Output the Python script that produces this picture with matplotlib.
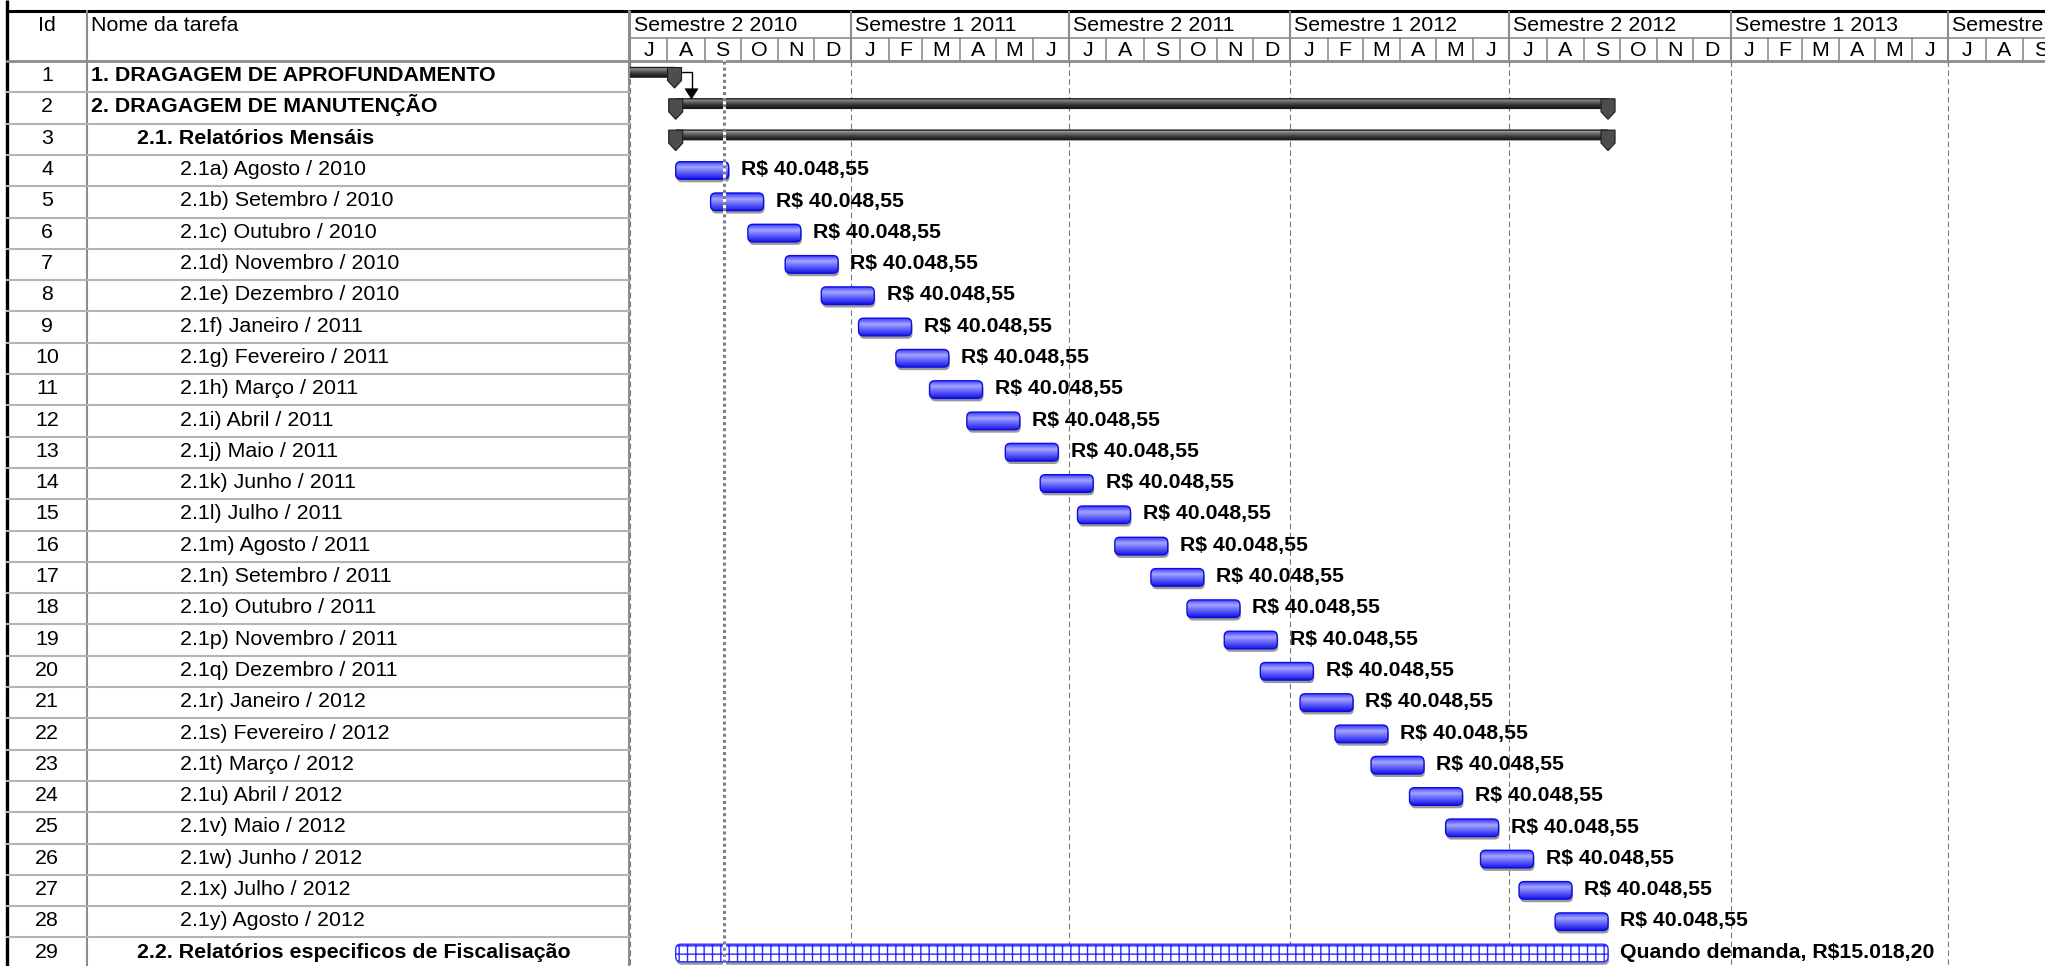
#!/usr/bin/env python3
"""Gantt da dragagem: tabela de tarefas a esquerda, linha do tempo semestral a direita."""
import matplotlib

matplotlib.use("Agg")

import matplotlib.dates as mdates
import matplotlib.pyplot as plt
import numpy as np
import pandas as pd
from matplotlib.colors import LinearSegmentedColormap
from matplotlib.patches import FancyBboxPatch, Polygon

plt.rcParams["font.family"] = ["Liberation Sans", "DejaVu Sans"]
plt.rcParams["hatch.linewidth"] = 1.0

TASK_IDS = list(range(1, 30))
TASK_NAMES = [
    "1. DRAGAGEM DE APROFUNDAMENTO",
    "2. DRAGAGEM DE MANUTENÇÃO",
    "2.1. Relatórios Mensáis",
    "2.1a) Agosto / 2010",
    "2.1b) Setembro / 2010",
    "2.1c) Outubro / 2010",
    "2.1d) Novembro / 2010",
    "2.1e) Dezembro / 2010",
    "2.1f) Janeiro / 2011",
    "2.1g) Fevereiro / 2011",
    "2.1h) Março / 2011",
    "2.1i) Abril / 2011",
    "2.1j) Maio / 2011",
    "2.1k) Junho / 2011",
    "2.1l) Julho / 2011",
    "2.1m) Agosto / 2011",
    "2.1n) Setembro / 2011",
    "2.1o) Outubro / 2011",
    "2.1p) Novembro / 2011",
    "2.1q) Dezembro / 2011",
    "2.1r) Janeiro / 2012",
    "2.1s) Fevereiro / 2012",
    "2.1t) Março / 2012",
    "2.1u) Abril / 2012",
    "2.1v) Maio / 2012",
    "2.1w) Junho / 2012",
    "2.1x) Julho / 2012",
    "2.1y) Agosto / 2012",
    "2.2. Relatórios especificos de Fiscalisação",
]
TASK_LEVELS = [0, 0, 1] + [2] * 25 + [1]

SUMMARY_ROWS = [1, 2, 3]
SUMMARY_START = ["2010-03-01", "2010-08-08", "2010-08-08"]
SUMMARY_FINISH = ["2010-08-07", "2012-09-21", "2012-09-21"]

REPORT_ROWS = list(range(4, 29))
REPORT_START = [
    "2010-08-08", "2010-09-06", "2010-10-07", "2010-11-07", "2010-12-07",
    "2011-01-07", "2011-02-07", "2011-03-07", "2011-04-07", "2011-05-09",
    "2011-06-07", "2011-07-08", "2011-08-08", "2011-09-07", "2011-10-07",
    "2011-11-07", "2011-12-07", "2012-01-09", "2012-02-07", "2012-03-08",
    "2012-04-09", "2012-05-09", "2012-06-07", "2012-07-09", "2012-08-08",
]
REPORT_DAYS = [44, 44, 44, 44, 44, 44, 44, 44, 44, 44, 44, 44, 44,
               44, 44, 44, 44, 44, 44, 44, 44, 44, 44, 44, 44]
REPORT_COST = ["R$ 40.048,55"] * 25

DEMAND_ROW = 29
DEMAND_START = "2010-08-08"
DEMAND_FINISH = "2012-09-21"
DEMAND_LABEL = "Quando demanda, R$15.018,20"

STATUS_DATE = "2010-09-17"
TIMESCALE_START = "2010-07-01"
TIMESCALE_END = "2013-12-01"

MONTH_LETTERS = ["J", "F", "M", "A", "M", "J", "J", "A", "S", "O", "N", "D"]

# ---- layout (pixels) ----
W, H = 2045, 966
LEFT_EDGE = 7
ID_RIGHT = 87
TABLE_RIGHT = 630
HEADER_TOP = 10.5
HEADER_MID = 38
HEADER_BOTTOM = 61
ROW_H = 31.3
PX_PER_DAY = 1.203
FS_TABLE = 15.4
FS_LABEL = 15.3

BAR_TOP = 6.8 / ROW_H       # task bar offset inside a row
BAR_H = 17.6 / ROW_H
LABEL_BASE = 20.3 / ROW_H
SUM_TOP = 6.5 / ROW_H
SUM_H = 9.6 / ROW_H

GRID = "#8c8c8c"
ROWLINE = "#b4b4b4"


def d(date):
    return mdates.date2num(pd.Timestamp(date))


def dx(px):
    return px / PX_PER_DAY


def dy(px):
    return px / ROW_H


def yrow(px):
    # figure pixel (from top) -> chart row units
    return (px - HEADER_BOTTOM) / ROW_H


def draw_table(cv):
    cv.plot([LEFT_EDGE, W], [HEADER_TOP, HEADER_TOP], color="black", lw=2.2, solid_capstyle="butt")
    cv.plot([LEFT_EDGE, LEFT_EDGE], [0, H], color="black", lw=2.4, solid_capstyle="butt")
    cv.plot([ID_RIGHT, ID_RIGHT], [HEADER_TOP, H], color=GRID, lw=1.5)
    cv.plot([TABLE_RIGHT - 0.5, TABLE_RIGHT - 0.5], [HEADER_TOP, H], color=GRID, lw=1.5)
    for k in range(1, len(TASK_IDS)):
        yy = HEADER_BOTTOM + k * ROW_H
        cv.plot([LEFT_EDGE, TABLE_RIGHT], [yy, yy], color=ROWLINE, lw=1.5)
    cv.plot([LEFT_EDGE, W], [HEADER_BOTTOM, HEADER_BOTTOM], color=GRID, lw=2.0)

    cv.text((LEFT_EDGE + ID_RIGHT) / 2, 31, "Id", ha="center", va="baseline", fontsize=FS_TABLE)
    cv.text(91, 31, "Nome da tarefa", ha="left", va="baseline", fontsize=FS_TABLE)

    indent = {0: 91, 1: 137, 2: 180}
    for k, (tid, name, lvl) in enumerate(zip(TASK_IDS, TASK_NAMES, TASK_LEVELS)):
        base = HEADER_BOTTOM + k * ROW_H + 20.2
        cv.text((LEFT_EDGE + ID_RIGHT) / 2, base, str(tid), ha="center", va="baseline", fontsize=FS_TABLE)
        cv.text(indent[lvl], base, name, ha="left", va="baseline", fontsize=FS_TABLE,
                fontweight="bold" if lvl < 2 else "normal")


def draw_timescale(ax, x0, x1, ybot):
    ytop = yrow(HEADER_TOP)
    ymid = yrow(HEADER_MID)
    ax.plot([x0, x1], [ymid, ymid], color=GRID, lw=1.2)
    months = pd.date_range(TIMESCALE_START, TIMESCALE_END, freq="MS")
    for m0, m1 in zip(months[:-1], months[1:]):
        a, b = d(m0), d(m1)
        if a > x1:
            break
        if m0.month in (1, 7):
            ax.plot([a, a], [ytop, 0], color=GRID, lw=1.5)
            ax.plot([a, a], [0, ybot], color="#7a7a7a", lw=0.8, ls=(0, (5, 3)), zorder=1)
            sem = 1 if m0.month == 1 else 2
            ax.text(a + dx(4), yrow(31), f"Semestre {sem} {m0.year}", ha="left", va="baseline",
                    fontsize=FS_TABLE, clip_on=True)
        else:
            ax.plot([a, a], [ymid, 0], color=GRID, lw=1.2)
        ax.text((a + b) / 2, yrow(56.5), MONTH_LETTERS[m0.month - 1], ha="center", va="baseline",
                fontsize=FS_TABLE, clip_on=True)


def gradient_bar(ax, s, f, top, h, cmap, edge, rounding_px, shadow=True):
    aspect = PX_PER_DAY / ROW_H
    style = f"round,pad=0,rounding_size={dx(rounding_px)}"
    if shadow:
        sh = FancyBboxPatch((s + dx(1), top + dy(3)), f - s, h, boxstyle=style, mutation_aspect=aspect,
                            facecolor="#9a9a9a", edgecolor="none", zorder=2)
        ax.add_patch(sh)
    box = FancyBboxPatch((s, top), f - s, h, boxstyle=style, mutation_aspect=aspect,
                         facecolor="none", edgecolor=edge, lw=1.0, zorder=4)
    ax.add_patch(box)
    grad = np.linspace(0, 1, 64).reshape(-1, 1)
    im = ax.imshow(grad, extent=(s, f, top + h, top), cmap=cmap, aspect="auto",
                   interpolation="bilinear", zorder=3)
    im.set_clip_path(box)


def summary_cap(ax, xc, top):
    hw = dx(7)
    pts = [(xc - hw, top), (xc + hw, top), (xc + hw, top + dy(13)), (xc, top + dy(20.5)), (xc - hw, top + dy(13))]
    ax.add_patch(Polygon(pts, closed=True, facecolor="#4d4d4d", edgecolor="#1c1c1c", lw=0.8, zorder=5))


def main():
    fig = plt.figure(figsize=(W / 100, H / 100), dpi=100)
    cv = fig.add_axes([0, 0, 1, 1])
    cv.set_xlim(0, W)
    cv.set_ylim(H, 0)
    cv.axis("off")
    draw_table(cv)

    ax = fig.add_axes([TABLE_RIGHT / W, 0, (W - TABLE_RIGHT) / W, (H - HEADER_TOP) / H])
    ax.patch.set_alpha(0)
    x0 = d(TIMESCALE_START)
    x1 = x0 + dx(W - TABLE_RIGHT)
    ybot = yrow(H)
    draw_timescale(ax, x0, x1, ybot)

    blue = LinearSegmentedColormap.from_list(
        "blue", [(0, "#3535ff"), (0.33, "#a4a4ff"), (0.55, "#7373ff"), (1, "#1515e6")])
    grey = LinearSegmentedColormap.from_list(
        "grey", [(0, "#b4b4b4"), (0.3, "#737373"), (0.65, "#3a3a3a"), (1, "#141414")])

    # summary bars with end caps
    for row, s, f in zip(SUMMARY_ROWS, SUMMARY_START, SUMMARY_FINISH):
        top = row - 1 + SUM_TOP
        gradient_bar(ax, d(s), d(f), top, SUM_H, grey, "#1c1c1c", 1, shadow=False)
        summary_cap(ax, d(s), top)
        summary_cap(ax, d(f), top)

    # finish-to-start link 1 -> 2
    fx = d(SUMMARY_FINISH[0])
    ax_x = fx + dx(17)
    yl = SUMMARY_ROWS[0] - 1 + SUM_TOP + SUM_H / 2
    y_end = SUMMARY_ROWS[1] - 1 + SUM_TOP
    ax.plot([fx + dx(7), ax_x, ax_x], [yl, yl, y_end - dy(9)], color="black", lw=1.0, zorder=5)
    ax.add_patch(Polygon([(ax_x - dx(6.5), y_end - dy(10)), (ax_x + dx(6.5), y_end - dy(10)), (ax_x, y_end)],
                         closed=True, facecolor="black", edgecolor="black", lw=0.5, zorder=6))

    # monthly report bars
    for row, s, n, lab in zip(REPORT_ROWS, REPORT_START, REPORT_DAYS, REPORT_COST):
        xs = d(s)
        xf = xs + n
        top = row - 1 + BAR_TOP
        gradient_bar(ax, xs, xf, top, BAR_H, blue, "#0c0ce0", 5)
        ax.annotate(lab, xy=(xf, row - 1 + LABEL_BASE), xytext=(8.9, 0), textcoords="offset points",
                    ha="left", va="baseline", fontsize=FS_LABEL, fontweight="bold", zorder=7)

    # on-demand inspections bar (hatched)
    xs, xf = d(DEMAND_START), d(DEMAND_FINISH)
    top = DEMAND_ROW - 1 + BAR_TOP
    aspect = PX_PER_DAY / ROW_H
    style = f"round,pad=0,rounding_size={dx(5)}"
    ax.add_patch(FancyBboxPatch((xs + dx(1), top + dy(3)), xf - xs, BAR_H, boxstyle=style,
                                mutation_aspect=aspect, facecolor="#9a9a9a", edgecolor="none", zorder=2))
    ax.add_patch(FancyBboxPatch((xs, top), xf - xs, BAR_H, boxstyle=style, mutation_aspect=aspect,
                                facecolor="white", edgecolor="#2a2aff", hatch="++", lw=1.0, zorder=4))
    ax.annotate(DEMAND_LABEL, xy=(xf, DEMAND_ROW - 1 + LABEL_BASE), xytext=(8.9, 0), textcoords="offset points",
                ha="left", va="baseline", fontsize=FS_LABEL, fontweight="bold", zorder=7)

    # status date line
    st = d(STATUS_DATE)
    ax.plot([st, st], [0, ybot], color="white", lw=2.2, zorder=6)
    ax.plot([st, st], [0, ybot], color="#7f7f7f", lw=2.2, ls=(0, (1, 1)), zorder=6)

    ax.set_xlim(x0, x1)
    ax.set_ylim(ybot, yrow(HEADER_TOP))
    ax.axis("off")

    fig.savefig("out.png", dpi=100)
    plt.close(fig)


if __name__ == "__main__":
    main()
